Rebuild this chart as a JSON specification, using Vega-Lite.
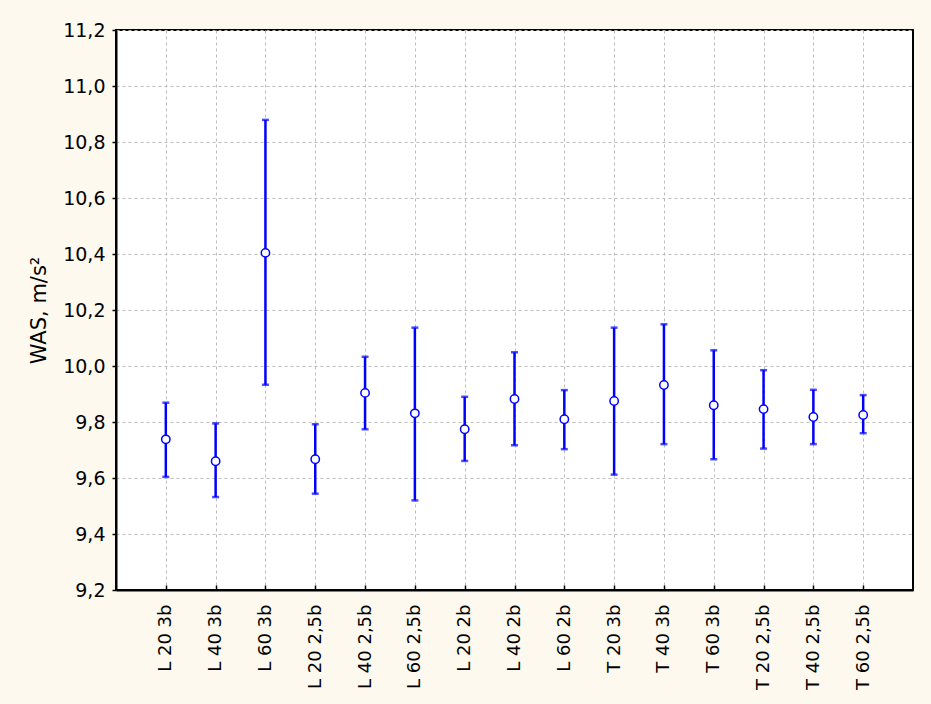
{
  "$schema": "https://vega.github.io/schema/vega-lite/v6.json",
  "width": 797,
  "height": 560,
  "autosize": {"type": "none"},
  "padding": {"left": 116, "top": 30, "right": 18, "bottom": 114},
  "background": "#fdf9ef",
  "data": {
    "values": [
      {"grupa": "L 20 3b", "srednia": 9.738, "dol": 9.604, "gora": 9.869},
      {"grupa": "L 40 3b", "srednia": 9.660, "dol": 9.532, "gora": 9.795},
      {"grupa": "L 60 3b", "srednia": 10.404, "dol": 9.933, "gora": 10.879},
      {"grupa": "L 20 2,5b", "srednia": 9.667, "dol": 9.544, "gora": 9.792},
      {"grupa": "L 40 2,5b", "srednia": 9.904, "dol": 9.774, "gora": 10.033},
      {"grupa": "L 60 2,5b", "srednia": 9.831, "dol": 9.520, "gora": 10.137},
      {"grupa": "L 20 2b", "srednia": 9.774, "dol": 9.661, "gora": 9.890},
      {"grupa": "L 40 2b", "srednia": 9.882, "dol": 9.717, "gora": 10.049},
      {"grupa": "L 60 2b", "srednia": 9.810, "dol": 9.703, "gora": 9.914},
      {"grupa": "T 20 3b", "srednia": 9.875, "dol": 9.612, "gora": 10.137},
      {"grupa": "T 40 3b", "srednia": 9.932, "dol": 9.721, "gora": 10.149},
      {"grupa": "T 60 3b", "srednia": 9.860, "dol": 9.667, "gora": 10.056},
      {"grupa": "T 20 2,5b", "srednia": 9.846, "dol": 9.705, "gora": 9.985},
      {"grupa": "T 40 2,5b", "srednia": 9.818, "dol": 9.721, "gora": 9.915},
      {"grupa": "T 60 2,5b", "srednia": 9.825, "dol": 9.760, "gora": 9.896}
    ]
  },
  "encoding": {
    "x": {
      "field": "grupa",
      "type": "nominal",
      "sort": null,
      "scale": {"type": "point", "padding": 1},
      "axis": {
        "title": null,
        "labelAngle": -90,
        "labelFontSize": 18,
        "labelPadding": 19,
        "tickSize": -5,
        "grid": true
      }
    }
  },
  "layer": [
    {
      "mark": {"type": "rule", "color": "#0000ff", "strokeWidth": 2.5},
      "encoding": {
        "y": {
          "field": "dol",
          "type": "quantitative",
          "scale": {"domain": [9.2, 11.2], "nice": false, "zero": false},
          "axis": {
            "title": "WAS, m/s²",
            "titleFontSize": 21,
            "titleFontWeight": "normal",
            "titlePadding": 13,
            "format": ".1f",
            "values": [9.2, 9.4, 9.6, 9.8, 10.0, 10.2, 10.4, 10.6, 10.8, 11.0, 11.2],
            "labelFontSize": 19,
            "labelPadding": 7,
            "tickSize": 4,
            "grid": true
          }
        },
        "y2": {"field": "gora"}
      }
    },
    {
      "mark": {"type": "tick", "color": "#0000ff", "size": 7, "thickness": 2.5},
      "encoding": {"y": {"field": "dol", "type": "quantitative"}}
    },
    {
      "mark": {"type": "tick", "color": "#0000ff", "size": 7, "thickness": 2.5},
      "encoding": {"y": {"field": "gora", "type": "quantitative"}}
    },
    {
      "mark": {"type": "point", "shape": "circle", "filled": true, "fill": "#ffffff", "stroke": "#0000ff", "strokeWidth": 1.5, "size": 70, "opacity": 1},
      "encoding": {"y": {"field": "srednia", "type": "quantitative"}}
    }
  ],
  "config": {
    "locale": {
      "number": {"decimal": ",", "thousands": " ", "grouping": [3], "currency": ["", ""]}
    },
    "font": "DejaVu Sans",
    "view": {"fill": "#ffffff", "stroke": "#000000", "strokeWidth": 2},
    "axis": {
      "labelFont": "DejaVu Sans",
      "titleFont": "DejaVu Sans",
      "labelColor": "#000000",
      "titleColor": "#000000",
      "domainColor": "#000000",
      "domainWidth": 2,
      "tickColor": "#000000",
      "tickWidth": 1.5,
      "gridColor": "#bdbdbd",
      "gridDash": [3, 3],
      "gridWidth": 1
    }
  }
}
